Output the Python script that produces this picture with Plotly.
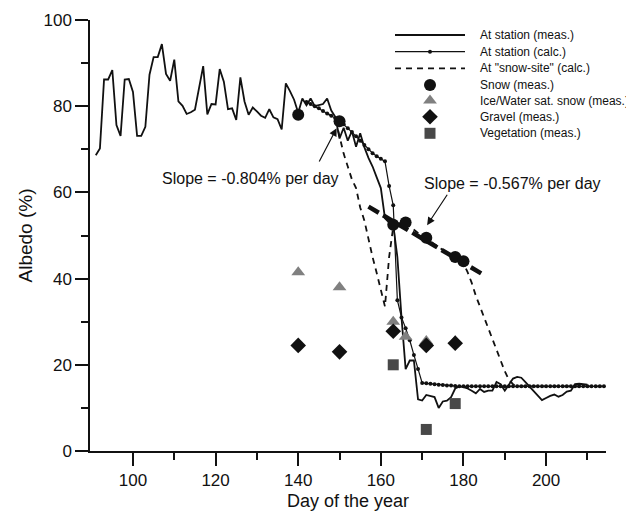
import plotly.graph_objects as go

# measured albedo at the station (daily)
meas_day = list(range(91, 211))
meas_alb = [68.6, 70.2, 86.2, 86.2, 88.4, 75.6, 73.1, 86.2, 86.3, 83.3,
            73.1, 73.1, 75.2, 87.3, 91.4, 91.4, 94.4, 87.5, 85.9, 90.8,
            81.1, 80.1, 78.2, 78.6, 79.2, 84.5, 89.3, 78.1, 80.5, 80.4,
            88.6, 85.7, 79.3, 79.5, 76.8, 86.7, 81.1, 78.0, 79.7, 78.8,
            77.8, 77.3, 79.3, 77.4, 77.0, 74.6, 85.3, 83.5, 81.5, 78.5,
            81.8, 80.2, 81.8, 80.0, 80.3, 80.5, 81.8, 79.0, 77.5, 72.5,
            75.0, 72.0, 74.2, 70.6, 73.7, 70.5, 68.0, 66.0, 63.5, 61.0,
            54.0, 53.0, 52.5, 45.0, 31.0, 19.0, 21.0, 21.0, 12.0, 11.7,
            13.0, 12.8, 12.5, 10.0, 11.5, 11.7, 12.5, 14.5, 15.0, 14.8,
            14.5, 14.0, 13.4, 14.4, 13.7, 14.0, 14.0, 16.0, 15.5, 14.0,
            15.5, 16.8, 17.2, 17.0, 16.0, 15.0, 14.0, 13.0, 11.8, 12.3,
            12.8, 13.1, 12.6, 13.0, 13.8, 14.0, 15.5, 15.6, 15.5, 15.4]

# calculated albedo at the station
calc_day = list(range(142, 215))
calc_alb = [81.0, 80.5, 80.0, 79.5, 78.9, 78.3, 77.8, 77.2, 76.6, 75.8,
            74.9, 74.0, 73.0, 72.0, 71.0, 70.0, 69.1, 68.4, 67.8, 67.2,
            61.5, 57.0, 35.0, 31.0, 28.5, 25.7, 22.3, 19.0, 15.8, 15.7,
            15.6, 15.5, 15.4, 15.3, 15.2, 15.2, 15.1, 15.0, 15.0, 15.0,
            15.0, 15.0, 15.0, 15.0, 15.0, 15.0, 15.0, 15.0, 15.0, 15.0,
            15.0, 15.0, 15.0, 15.0, 15.0, 15.0, 15.0, 15.0, 15.0, 15.0,
            15.0, 15.0, 15.0, 15.0, 15.0, 15.0, 15.0, 15.0, 15.0, 15.0,
            15.0, 15.0, 15.0]

# calculated albedo at the "snow-site"
site_day = list(range(147, 215))
site_alb = [78.3, 77.8, 77.0, 73.0, 69.0, 66.0, 63.0, 61.0, 56.5, 53.5,
            49.0, 45.0, 41.3, 37.5, 33.5, 45.0, 52.0, 52.7, 52.9, 52.8,
            52.0, 51.3, 50.6, 50.0, 49.4, 48.7, 48.0, 47.3, 46.7, 46.0,
            45.4, 44.8, 44.3, 43.5, 41.5, 39.0, 36.0, 33.5, 31.0, 28.5,
            26.0, 23.5, 21.0, 18.5, 16.5, 15.5, 15.0, 15.0, 15.0, 15.0,
            15.0, 15.0, 15.0, 15.0, 15.0, 15.0, 15.0, 15.0, 15.0, 15.0,
            15.0, 15.0, 15.0, 15.0, 15.0, 15.0, 15.0, 15.0]

# point measurements
snow_day = [140, 150, 163, 166, 171, 178, 180]
snow_alb = [78.0, 76.5, 52.5, 53.0, 49.5, 45.0, 44.0]
ice_day = [140, 150, 163, 166, 171, 178]
ice_alb = [41.5, 38.0, 30.0, 26.5, 25.5, 25.5]
gravel_day = [140, 150, 163, 171, 178]
gravel_alb = [24.5, 23.0, 27.8, 24.5, 25.0]
veg_day = [163, 171, 178]
veg_alb = [20.0, 5.0, 11.0]

# fitted snow decline
fit_day = [157, 185]
fit_alb = [56.7, 40.8]

legend_names = ["At station (meas.)", "At station (calc.)", 'At "snow-site" (calc.)',
                "Snow (meas.)", "Ice/Water sat. snow (meas.)", "Gravel (meas.)",
                "Vegetation (meas.)"]

FONT = "Liberation Sans, Arial, sans-serif"
INK = "#111111"
ICE = "rgb(128,128,128)"
VEG = "rgb(72,72,72)"

# page is 634x511 but the html body adds an 8px margin
PAD = 8
W, H = 634 - PAD, 511 - PAD
PX0, PX1, PY0, PY1 = 90, 606, 20, 451   # plot area in page pixels
L, R, T, B = PX0 - PAD, W - (PX1 - PAD), PY0 - PAD, H - (PY1 - PAD)

fig = go.Figure()

fig.add_trace(go.Scatter(x=meas_day, y=meas_alb, mode="lines",
                         line=dict(color=INK, width=1.8)))
fig.add_trace(go.Scatter(x=calc_day, y=calc_alb, mode="lines+markers",
                         line=dict(color=INK, width=1.2),
                         marker=dict(color=INK, size=4)))
fig.add_trace(go.Scatter(x=site_day, y=site_alb, mode="lines",
                         line=dict(color=INK, width=1.8, dash="6px,5px")))
fig.add_trace(go.Scatter(x=fit_day, y=fit_alb, mode="lines",
                         line=dict(color=INK, width=4.5, dash="12px,5px")))

fig.add_trace(go.Scatter(x=ice_day, y=ice_alb, mode="markers",
                         marker=dict(symbol="triangle-up", color=ICE, size=12)))
fig.add_trace(go.Scatter(x=gravel_day, y=gravel_alb, mode="markers",
                         marker=dict(symbol="diamond", color=INK, size=12)))
fig.add_trace(go.Scatter(x=veg_day, y=veg_alb, mode="markers",
                         marker=dict(symbol="square", color=VEG, size=11)))
fig.add_trace(go.Scatter(x=snow_day, y=snow_alb, mode="markers",
                         marker=dict(symbol="circle", color=INK, size=12)))

# hand-made legend on an overlay axis measured in page pixels
LEG_Y = [35, 51.7, 68.3, 85, 100.5, 116.7, 133.3]
LEG_X0, LEG_X1, LEG_XM, LEG_TX = 395, 465, 430, 478
lx = dict(xaxis="x2", yaxis="y2", showlegend=False, hoverinfo="skip")
fig.add_trace(go.Scatter(x=[LEG_X0, LEG_X1], y=[LEG_Y[0]] * 2, mode="lines",
                         line=dict(color=INK, width=1.8), **lx))
fig.add_trace(go.Scatter(x=[LEG_X0, LEG_X1], y=[LEG_Y[1]] * 2, mode="lines",
                         line=dict(color=INK, width=1.2), **lx))
fig.add_trace(go.Scatter(x=[LEG_XM], y=[LEG_Y[1]], mode="markers",
                         marker=dict(color=INK, size=4), **lx))
fig.add_trace(go.Scatter(x=[LEG_X0, LEG_X1], y=[LEG_Y[2]] * 2, mode="lines",
                         line=dict(color=INK, width=1.8, dash="6px,5px"), **lx))
leg_marks = [("circle", INK, 12), ("triangle-up", ICE, 12),
             ("diamond", INK, 12), ("square", VEG, 11)]
for (sym, col, sz), yy in zip(leg_marks, LEG_Y[3:]):
    fig.add_trace(go.Scatter(x=[LEG_XM], y=[yy], mode="markers",
                             marker=dict(symbol=sym, color=col, size=sz), **lx))

annos = []
for name, yy in zip(legend_names, LEG_Y):
    annos.append(dict(x=LEG_TX, y=yy, xref="x2", yref="y2", text=name,
                      showarrow=False, xanchor="left", yanchor="middle",
                      font=dict(family=FONT, size=12, color=INK)))

# slope labels and arrows
annos.append(dict(x=128.5, y=63.3, xref="x", yref="y", text="Slope = -0.804% per day",
                  showarrow=False, font=dict(family=FONT, size=16, color=INK)))
annos.append(dict(x=191.9, y=62.1, xref="x", yref="y", text="Slope = -0.567% per day",
                  showarrow=False, font=dict(family=FONT, size=16, color=INK)))
annos.append(dict(x=149.3, y=74.9, ax=144.9, ay=66.8, xref="x", yref="y",
                  axref="x", ayref="y", text="", showarrow=True, arrowhead=2,
                  arrowsize=1.3, arrowwidth=1.2, arrowcolor=INK))
annos.append(dict(x=171.2, y=52.4, ax=176.3, ay=59.8, xref="x", yref="y",
                  axref="x", ayref="y", text="", showarrow=True, arrowhead=2,
                  arrowsize=1.3, arrowwidth=1.2, arrowcolor=INK))

axis_common = dict(showline=True, linecolor=INK, linewidth=1.5, ticks="outside",
                   ticklen=13, tickwidth=1.5, tickcolor=INK, showgrid=False,
                   zeroline=False, automargin=False,
                   tickfont=dict(family=FONT, size=17, color=INK))

fig.update_layout(
    width=W, height=H,
    margin=dict(l=L, r=R, t=T, b=B, autoexpand=False),
    paper_bgcolor="white", plot_bgcolor="white",
    showlegend=False,
    annotations=annos,
    xaxis=dict(range=[89.6, 214.5], tickvals=[100, 120, 140, 160, 180, 200],
               minor=dict(tickvals=[110, 130, 150, 170, 190, 210], ticklen=7,
                          tickwidth=1.5, tickcolor=INK, ticks="outside"),
               title=dict(text="Day of the year", standoff=5,
                          font=dict(family=FONT, size=18, color=INK)),
               **axis_common),
    yaxis=dict(range=[0, 100], tickvals=[0, 20, 40, 60, 80, 100],
               minor=dict(tickvals=[10, 30, 50, 70, 90], ticklen=7,
                          tickwidth=1.5, tickcolor=INK, ticks="outside"),
               title=dict(text="Albedo (%)", standoff=6,
                          font=dict(family=FONT, size=19, color=INK)),
               **axis_common),
    xaxis2=dict(range=[PX0, PX1], overlaying="x", visible=False),
    yaxis2=dict(range=[PY1, PY0], overlaying="y", visible=False),
)

fig.write_html("out.html")
